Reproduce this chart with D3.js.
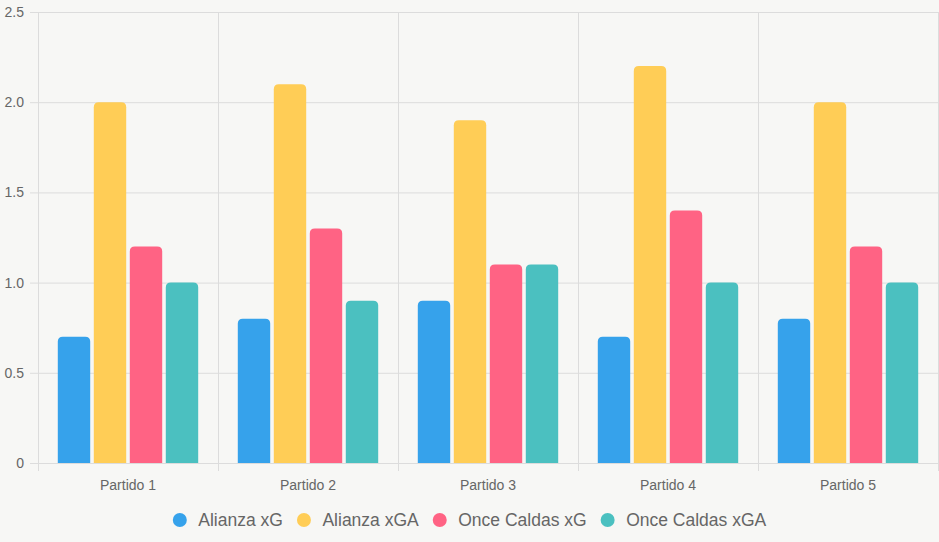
<!DOCTYPE html>
<html>
<head>
<meta charset="utf-8">
<script src="https://cdn.jsdelivr.net/npm/d3@7"></script>
<style>
  html, body { margin: 0; padding: 0; background: #f7f7f5; }
  svg { display: block; font-family: "Liberation Sans", Arial, sans-serif; }
</style>
</head>
<body>
<svg></svg>
<script>
const width = 939;
const height = 542;
const margin = {top: 12, right: 1, bottom: 79, left: 38};

const categories = ["Partido 1", "Partido 2", "Partido 3", "Partido 4", "Partido 5"];
const seriesNames = ["Alianza xG", "Alianza xGA", "Once Caldas xG", "Once Caldas xGA"];
const seriesColors = ["#36a2eb", "#ffcd56", "#ff6384", "#4bc0c0"];
const alianzaXG = [0.7, 0.8, 0.9, 0.7, 0.8];
const alianzaXGA = [2.0, 2.1, 1.9, 2.2, 2.0];
const onceXG = [1.2, 1.3, 1.1, 1.4, 1.2];
const onceXGA = [1.0, 0.9, 1.1, 1.0, 1.0];
const yTicks = [0, 0.5, 1.0, 1.5, 2.0, 2.5];

const seriesValues = [alianzaXG, alianzaXGA, onceXG, onceXGA];

const svg = d3.select("svg").attr("width", width).attr("height", height);

const x0 = d3.scaleBand()
  .domain(categories)
  .range([margin.left, width - margin.right])
  .padding(0);

const groupW = x0.bandwidth() * 0.8;
const x1 = d3.scaleBand()
  .domain(seriesNames)
  .range([(x0.bandwidth() - groupW) / 2, (x0.bandwidth() + groupW) / 2])
  .paddingInner(0.1)
  .paddingOuter(0.05);

const y = d3.scaleLinear()
  .domain([0, 2.5])
  .range([height - margin.bottom, margin.top]);

const gridColor = "#dcdcdc";

// horizontal grid + y labels
const yAxis = d3.axisLeft(y)
  .tickValues(yTicks)
  .tickSize(-(width - margin.left - margin.right))
  .tickPadding(14)
  .tickFormat(d => d === 0 ? "0" : d3.format(".1f")(d));

const gy = svg.append("g")
  .attr("transform", "translate(" + margin.left + ",0)")
  .call(yAxis);
gy.select(".domain").remove();
gy.selectAll(".tick line").attr("stroke", gridColor).attr("x1", -8);
gy.selectAll(".tick text").attr("fill", "#666").style("font-size", "14px");

// vertical grid lines at category boundaries
const bounds = categories.map(c => x0(c)).concat([width - margin.right]);
svg.append("g").selectAll("line")
  .data(bounds)
  .enter()
  .append("line")
  .attr("x1", d => Math.round(d) + 0.5)
  .attr("x2", d => Math.round(d) + 0.5)
  .attr("y1", margin.top)
  .attr("y2", height - margin.bottom + 8)
  .attr("stroke", gridColor);

// x labels
svg.append("g").selectAll("text")
  .data(categories)
  .enter()
  .append("text")
  .attr("x", d => x0(d) + x0.bandwidth() / 2)
  .attr("y", height - margin.bottom + 27)
  .attr("text-anchor", "middle")
  .attr("fill", "#666")
  .style("font-size", "14px")
  .text(d => d);

// bars
const r = 5;
const barPath = (bx, by, bw, bh) => {
  const rr = Math.min(r, bh / 2, bw / 2);
  return "M" + bx + "," + (by + bh) +
    "V" + (by + rr) +
    "Q" + bx + "," + by + " " + (bx + rr) + "," + by +
    "H" + (bx + bw - rr) +
    "Q" + (bx + bw) + "," + by + " " + (bx + bw) + "," + (by + rr) +
    "V" + (by + bh) + "Z";
};

seriesNames.forEach((name, si) => {
  svg.append("g").selectAll("path")
    .data(seriesValues[si])
    .enter()
    .append("path")
    .attr("fill", seriesColors[si])
    .attr("d", (v, i) => {
      const bx = x0(categories[i]) + x1(name);
      const by = y(v);
      return barPath(bx, by, x1.bandwidth(), y(0) - by);
    });
});

// legend
const legendY = 520;
const gap = 14;
const legend = svg.append("g");
let lx = 0;
const items = [];
seriesNames.forEach((name, i) => {
  const g = legend.append("g");
  g.append("circle").attr("cx", 7).attr("cy", 0).attr("r", 7).attr("fill", seriesColors[i]);
  const t = g.append("text")
    .attr("x", 25.5)
    .attr("y", 6)
    .attr("fill", "#666")
    .style("font-size", "17.5px")
    .text(name);
  const w = 25.5 + t.node().getComputedTextLength();
  items.push({g, x: lx});
  lx += w + gap;
});
const totalW = lx - gap;
const startX = (width - totalW) / 2;
items.forEach(it => it.g.attr("transform", "translate(" + (startX + it.x) + "," + legendY + ")"));
</script>
</body>
</html>
